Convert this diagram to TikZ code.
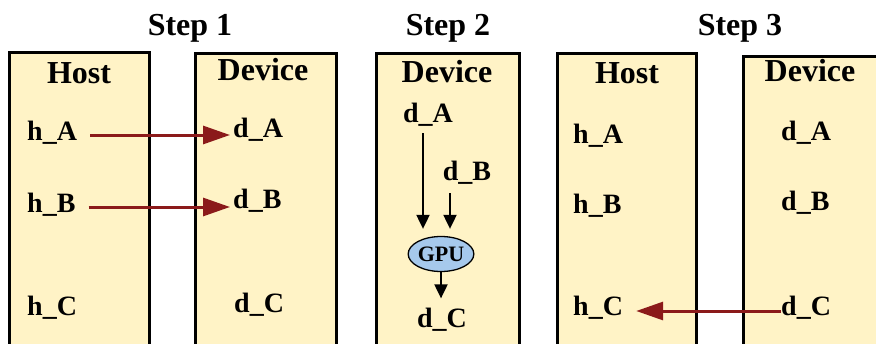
\documentclass[tikz,border=0pt]{standalone}
\usepackage{fontspec}
\setmainfont{Liberation Serif}
\usetikzlibrary{arrows.meta,shapes.geometric,calc}
\definecolor{boxfill}{HTML}{FFF3C6}
\definecolor{gpufill}{HTML}{A6C9EC}
\definecolor{arrred}{HTML}{8B1A1A}
\begin{document}
\begin{tikzpicture}[x=1pt,y=-1pt,
  panel/.style={draw=black, line width=2.6pt, fill=boxfill, inner sep=0pt, anchor=north west},
  title/.style={font=\fontsize{32}{32}\selectfont\bfseries, inner sep=0pt, anchor=base},
  lbl/.style={font=\fontsize{28}{28}\selectfont\bfseries, inner sep=0pt, anchor=base west},
  lblc/.style={font=\fontsize{28}{28}\selectfont\bfseries, inner sep=0pt, anchor=base},
  redarr/.style={draw=arrred, line width=3pt, -{Triangle[length=27pt,width=18pt]}},
  blkarr/.style={draw=black, line width=2pt, -{Triangle[length=14pt,width=13pt]}},
  gpustyle/.style={ellipse, draw=black, line width=1.3pt, fill=gpufill, minimum width=62pt, minimum height=35pt, inner sep=0pt, font=\fontsize{22}{22}\selectfont\bfseries}
]
\useasboundingbox (0,0) rectangle (876,343);
\clip (0,0) rectangle (876,343);
\fill[white] (0,0) rectangle (876,343);

% panels
\node[panel, minimum width=140pt, minimum height=320pt] (host1) at (8,51) {};
\node[panel, minimum width=141pt, minimum height=320pt] (dev1) at (194,52) {};
\node[panel, minimum width=143pt, minimum height=320pt] (dev2) at (375,52) {};
\node[panel, minimum width=139pt, minimum height=320pt] (host3) at (556,52) {};
\node[panel, minimum width=160pt, minimum height=320pt] (dev3) at (742,55) {};

% titles
\node[title] (s1) at (190,35) {Step 1};
\node[title] (s2) at (448,35) {Step 2};
\node[title] (s3) at (740,35) {Step 3};

% headers
\node[title] (h1t) at (79,83) {Host};
\node[title] (d1t) at (263,80) {Device};
\node[title] (d2t) at (447,82) {Device};
\node[title] (h3t) at (627,83) {Host};
\node[title] (d3t) at (810,81) {Device};

% step 1 labels
\node[lbl] (hA1) at (27,140) {h\_A};
\node[lbl] (hB1) at (27,212) {h\_B};
\node[lbl] (hC1) at (27,315) {h\_C};
\node[lbl] (dA1) at (233,137) {d\_A};
\node[lbl] (dB1) at (233,208) {d\_B};
\node[lbl] (dC1) at (234,312) {d\_C};

% step 2 labels
\node[lblc] (dA2) at (428,122) {d\_A};
\node[lblc] (dB2) at (467,180) {d\_B};
\node[gpustyle] (gpu) at (441,254) {GPU};
\node[lblc] (dC2) at (442,327) {d\_C};

% step 3 labels
\node[lbl] (hA3) at (573,143) {h\_A};
\node[lbl] (hB3) at (573,213) {h\_B};
\node[lbl] (hC3) at (573,315) {h\_C};
\node[lbl] (dA3) at (781,140) {d\_A};
\node[lbl] (dB3) at (781,210) {d\_B};
\node[lbl] (dC3) at (781,315) {d\_C};

% step 1 arrows
\draw[redarr] ([xshift=13pt,yshift=5pt]hA1.base east) -- ([xshift=-3pt]$([yshift=5pt]hA1.base east)!(dA1.west)!([yshift=5pt,xshift=10pt]hA1.base east)$);
\draw[redarr] ([xshift=13pt,yshift=5pt]hB1.base east) -- ([xshift=-3pt]$([yshift=5pt]hB1.base east)!(dB1.west)!([yshift=5pt,xshift=10pt]hB1.base east)$);

% step 2 arrows
\draw[blkarr] ([xshift=-5pt,yshift=-11pt]dA2.base) -- ([xshift=-18pt,yshift=7pt]gpu.north);
\draw[blkarr] ([xshift=-17pt,yshift=-13pt]dB2.base) -- ([xshift=9pt,yshift=7pt]gpu.north);
\draw[blkarr] (gpu.south) -- ([yshift=9pt]gpu.south |- dC2.north);

% step 3 arrow
\draw[redarr] ([yshift=4pt]dC3.base west) -- ([xshift=13pt]$([yshift=4pt]dC3.base west)!(hC3.east)!([yshift=4pt,xshift=-10pt]dC3.base west)$);
\end{tikzpicture}
\end{document}
